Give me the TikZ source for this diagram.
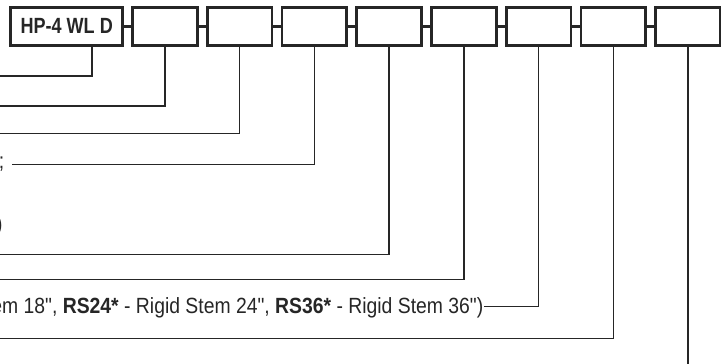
\documentclass[tikz,border=0pt]{standalone}
\usepackage{fontspec}
\newfontfamily\descfont{Liberation Sans}[FakeStretch=0.88]
\newfontfamily\codefont{Liberation Sans}[FakeStretch=0.82]
\usetikzlibrary{positioning, calc}
\definecolor{inkgray}{HTML}{262626}

\tikzset{
    codebox/.style={draw=inkgray, line width=2.7pt, minimum width=64.7pt, minimum height=38pt, inner sep=0pt, outer sep=0pt},
    joint/.style={draw=inkgray, line width=2.7pt},
    leader/.style={draw=inkgray, line width=1.4pt},
    desc/.style={text=inkgray, inner sep=0pt, text height=15.5pt, text depth=2pt, font=\descfont\fontsize{22}{26}\selectfont}
}

\begin{document}
\begin{tikzpicture}[x=1pt, y=-1pt]
    \useasboundingbox (0,0) rectangle (721,364);
    \clip (0,0) rectangle (721,364);

    % Code boxes
    \node[codebox, minimum width=112pt, anchor=north west, text=inkgray, font=\codefont\bfseries\fontsize{22}{26}\selectfont] (b1) at (10.7,7.3) {HP-4 WL D};
    \node[codebox, right=10pt of b1] (b2) {};
    \foreach \i [count=\j from 2] in {3,...,9}
        \node[codebox, right=10pt of b\j] (b\i) {};

    % Joints between boxes
    \foreach \i [count=\j] in {2,...,9}
        \draw[joint] (b\j.east) -- (b\i.west);

    % Descriptions (cut at the left edge)
    \node[desc, anchor=base east] (t4) at (4.5,168) {;};
    \node[desc, anchor=base east] (t5) at (2.8,231) {)};
    \node[desc, anchor=base east] (t7) at (483.5,313.5) {em 18", \textbf{RS24*} - Rigid Stem 24", \textbf{RS36*} - Rigid Stem 36")};

    % Free ends of the leaders
    \coordinate (d1) at ([xshift=-30.8pt]b1.south east);
    \coordinate (e1) at (0,75.8);
    \coordinate (e4) at (11.7,164.2);
    \coordinate (bottom) at (0,364);

    % Leaders
    \draw[leader] (d1) |- (e1);
    \foreach \i/\lvl in {2/105.8, 3/133.2, 5/254.2, 6/279.5, 8/338.2} {
        \coordinate (e\i) at (0,\lvl);
        \draw[leader] (b\i.south) |- (e\i);
    }
    \draw[leader] (b4.south) |- (e4);
    \draw[leader] (b7.south) |- (t7.east);
    \draw[leader] (b9.south) -- (b9.south |- bottom);

\end{tikzpicture}
\end{document}
